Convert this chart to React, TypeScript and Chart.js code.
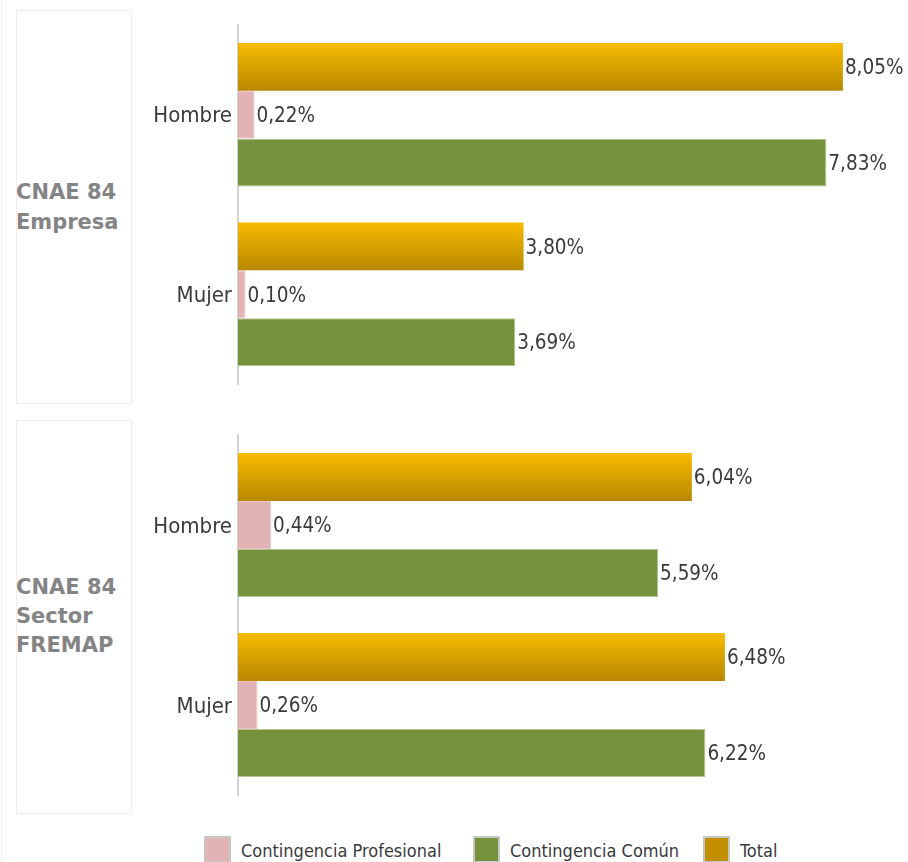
import React, { useEffect, useRef } from 'react';
import { Chart, registerables } from 'chart.js';

Chart.register(...registerables);

// ---------- data ----------
const categories = ['Hombre', 'Mujer'];
const seriesNames = ['Total', 'Contingencia Profesional', 'Contingencia Común'];
const empresaTotal = [8.05, 3.8];
const empresaProfesional = [0.22, 0.1];
const empresaComun = [7.83, 3.69];
const fremapTotal = [6.04, 6.48];
const fremapProfesional = [0.44, 0.26];
const fremapComun = [5.59, 6.22];
const panelTitleEmpresa = ['CNAE 84', 'Empresa'];
const panelTitleFremap = ['CNAE 84', 'Sector', 'FREMAP'];
const legendLabels = ['Contingencia Profesional', 'Contingencia Común', 'Total'];

// ---------- styles ----------
const FONT = "'DejaVu Sans Condensed', 'DejaVu Sans', sans-serif";
const COLOR_PROF = '#e1b3b4';
const COLOR_COMUN = '#76923c';
const COLOR_TOTAL = '#c18f00';
const X_MAX = 8.81;
const CAT_PCT = 0.8;

const totalFill = (c: any) => {
  const chart = c.chart;
  const y = chart.scales && chart.scales.y;
  if (!chart.chartArea || !y || c.dataIndex === undefined) return COLOR_TOTAL;
  const center = y.getPixelForValue(c.dataIndex);
  const cat = Math.abs(y.getPixelForValue(1) - y.getPixelForValue(0));
  if (!isFinite(center) || !isFinite(cat) || cat === 0) return COLOR_TOTAL;
  const top = center - (cat * CAT_PCT) / 2;
  const h = (cat * CAT_PCT) / 3;
  const g = chart.ctx.createLinearGradient(0, top, 0, top + h);
  g.addColorStop(0, '#f6bb00');
  g.addColorStop(1, '#b98800');
  return g;
};

const valueLabels = {
  id: 'valueLabels',
  afterDatasetsDraw(chart: any) {
    const ctx = chart.ctx;
    ctx.save();
    ctx.font = `20.5px ${FONT}`;
    ctx.fillStyle = '#3a3a3a';
    ctx.textAlign = 'left';
    ctx.textBaseline = 'middle';
    chart.data.datasets.forEach((ds: any, i: number) => {
      const meta = chart.getDatasetMeta(i);
      meta.data.forEach((el: any, j: number) => {
        const v = ds.data[j] as number;
        ctx.fillText(v.toFixed(2).replace('.', ',') + '%', el.x + 2, el.y + 2);
      });
    });
    ctx.restore();
  },
};

function makeChart(canvas: HTMLCanvasElement, total: number[], prof: number[], comun: number[], padTop: number, padBottom: number) {
  return new Chart(canvas, {
    type: 'bar',
    data: {
      labels: categories,
      datasets: [
        { label: seriesNames[0], data: total, backgroundColor: totalFill, borderWidth: 0 },
        { label: seriesNames[1], data: prof, backgroundColor: COLOR_PROF, borderColor: '#e8c6c6', borderWidth: 1 },
        { label: seriesNames[2], data: comun, backgroundColor: COLOR_COMUN, borderColor: '#b3c393', borderWidth: 1 },
      ],
    },
    plugins: [valueLabels],
    options: {
      indexAxis: 'y',
      responsive: false,
      maintainAspectRatio: false,
      animation: false,
      layout: { padding: { top: padTop, bottom: padBottom, right: 8, left: 0 } },
      datasets: { bar: { categoryPercentage: CAT_PCT, barPercentage: 1 } },
      plugins: { legend: { display: false }, tooltip: { enabled: false } },
      scales: {
        x: { display: false, min: 0, max: X_MAX },
        y: {
          afterFit: (s: any) => {
            s.width = 98;
            s.paddingTop = 0;
            s.paddingBottom = 0;
          },
          grid: { drawOnChartArea: false, drawTicks: false, color: 'rgba(0,0,0,0)' },
          border: { display: true, color: '#d2d2d2', width: 2 },
          ticks: { padding: 6, labelOffset: 2, color: '#3a3a3a', font: { family: FONT, size: 22 } },
        },
      },
    } as any,
  });
}

const titleStyle = (top: number, lh: number): React.CSSProperties => ({
  position: 'absolute',
  left: 16,
  top,
  fontFamily: "'DejaVu Sans', sans-serif",
  fontWeight: 'bold',
  fontSize: 21,
  lineHeight: `${lh}px`,
  color: '#848484',
  whiteSpace: 'nowrap',
});

const boxStyle = (top: number): React.CSSProperties => ({
  position: 'absolute',
  left: 16,
  top,
  width: 116,
  height: 394,
  boxSizing: 'border-box',
  border: '1px solid #f6eaea',
});

export default function App() {
  const c1 = useRef<HTMLCanvasElement>(null);
  const c2 = useRef<HTMLCanvasElement>(null);

  useEffect(() => {
    const a = makeChart(c1.current!, empresaTotal, empresaProfesional, empresaComun, 15, 19);
    const b = makeChart(c2.current!, fremapTotal, fremapProfesional, fremapComun, 15, 18);
    return () => {
      a.destroy();
      b.destroy();
    };
  }, []);

  const legendColors = [COLOR_PROF, COLOR_COMUN, COLOR_TOTAL];
  const legendBoxX = [204, 473, 703];

  return (
    <div style={{ position: 'absolute', left: 0, top: 0, width: 908, height: 862, overflow: 'hidden', background: '#fff' }}>
      <div style={{ position: 'absolute', left: 1, top: 0, width: 1, height: 862, background: '#f6eaea' }} />
      <div style={boxStyle(10)} />
      <div style={boxStyle(420)} />
      <div style={titleStyle(177, 30)}>
        {panelTitleEmpresa.map((t) => (
          <div key={t}>{t}</div>
        ))}
      </div>
      <div style={titleStyle(573, 29)}>
        {panelTitleFremap.map((t) => (
          <div key={t}>{t}</div>
        ))}
      </div>
      <canvas ref={c1} width={768} height={393} style={{ position: 'absolute', left: 140, top: 10, width: 768, height: 393 }} />
      <canvas ref={c2} width={768} height={393} style={{ position: 'absolute', left: 140, top: 420, width: 768, height: 393 }} />
      {legendLabels.map((l, i) => (
        <React.Fragment key={l}>
          <div
            style={{
              position: 'absolute',
              left: legendBoxX[i],
              top: 836,
              width: 27,
              height: 27,
              boxSizing: 'border-box',
              border: '2px solid #c6c6c6',
              background: legendColors[i],
            }}
          />
          <div
            style={{
              position: 'absolute',
              left: legendBoxX[i] + 37,
              top: 840,
              fontFamily: FONT,
              fontSize: 18,
              lineHeight: '22px',
              color: '#3a3a3a',
              whiteSpace: 'nowrap',
            }}
          >
            {l}
          </div>
        </React.Fragment>
      ))}
    </div>
  );
}
